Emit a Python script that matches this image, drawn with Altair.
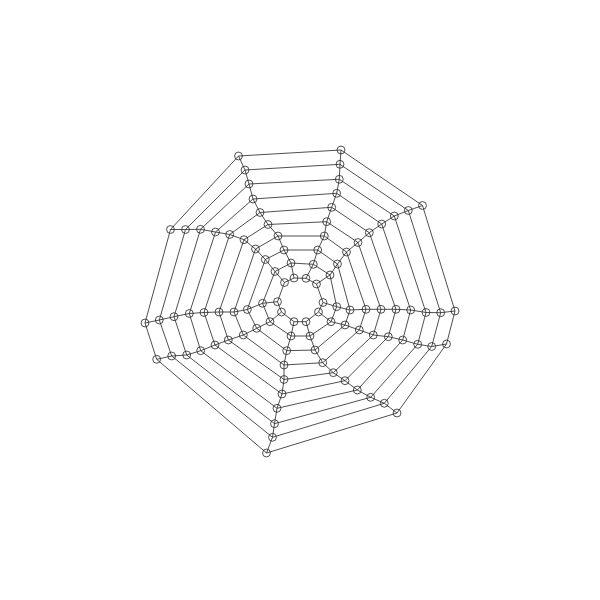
import altair as alt
import pandas as pd

# Node layout coordinates (centre of web = 0,0; y up), one list per spoke,
# ordered from the outer ring (index 0) to the inner ring (index 9).
spoke_x = [
    [-61.5, -55, -51, -47, -40, -32, -22, -16, -9, -6],
    [41, 40, 39.3, 36.7, 31.7, 26.7, 24.3, 17.7, 13.3, 6],
    [122.5, 108.3, 94.3, 81.7, 69.3, 58, 46.5, 37.5, 30, 16.5],
    [155, 140.7, 126, 110.7, 96, 81, 66, 50, 36.7, 23],
    [146.5, 131.7, 117.7, 102.7, 88.3, 73.3, 59.3, 45, 31, 18.5],
    [97, 84.3, 70.7, 57.3, 45, 33.3, 22.7, 15, 10, 6],
    [-33.5, -27.5, -25.5, -23, -18, -16, -16, -13.3, -9, -6],
    [-143.3, -128.3, -113.3, -99.3, -85, -71.7, -56.7, -43.3, -30, -18.5],
    [-155, -140.7, -126, -110.7, -96, -81, -66, -52.7, -37.5, -22.5],
    [-129.5, -114.5, -99.5, -84.5, -70.3, -56, -44.5, -34.7, -25, -15.5],
]
spoke_y = [
    [144, 130, 116, 101, 87.5, 75.5, 64, 50, 37, 22],
    [150, 135.7, 120.7, 106.7, 92.7, 78.3, 64, 50, 35.7, 21.7],
    [94.5, 89.5, 84, 76, 67.3, 57.5, 48, 36, 25, 16],
    [-11, -12.7, -12.5, -10, -9.3, -9.3, -9.3, -10, -6.7, -2.5],
    [-44, -46.5, -44.3, -40, -36.7, -35, -30, -25, -21.7, -12],
    [-113, -103.3, -97.3, -90, -80.7, -72.7, -62.7, -50, -36, -21.7],
    [-153, -137.3, -123.7, -108.3, -94, -79.5, -65, -50.7, -36, -21.7],
    [-59.3, -56, -55, -50.7, -45, -40, -35, -28.3, -21.7, -12],
    [-23, -20, -16.7, -13.5, -12.5, -12, -12, -9.5, -3.3, -1.7],
    [70.5, 70.5, 70.7, 68, 65.5, 60.3, 51, 40.5, 28.5, 17.5],
]

n_spokes = len(spoke_x)
n_rings = len(spoke_x[0])

nodes = []
for s in range(n_spokes):
    for r in range(n_rings):
        nodes.append({"spoke": s, "ring": r, "x": spoke_x[s][r], "y": spoke_y[s][r]})
nodes_df = pd.DataFrame(nodes)

edges = []
for s in range(n_spokes):
    for r in range(n_rings):
        # along the spoke
        if r + 1 < n_rings:
            edges.append({"x": spoke_x[s][r], "y": spoke_y[s][r],
                          "x2": spoke_x[s][r + 1], "y2": spoke_y[s][r + 1]})
        # around the ring
        t = (s + 1) % n_spokes
        edges.append({"x": spoke_x[s][r], "y": spoke_y[s][r],
                      "x2": spoke_x[t][r], "y2": spoke_y[t][r]})
edges_df = pd.DataFrame(edges)

xs = alt.Scale(domain=[-292, 292], nice=False, zero=False)
ys = alt.Scale(domain=[-292, 292], nice=False, zero=False)

edge_layer = alt.Chart(edges_df).mark_rule(color="#222222", strokeWidth=0.8).encode(
    x=alt.X("x:Q", scale=xs, axis=None),
    y=alt.Y("y:Q", scale=ys, axis=None),
    x2="x2:Q",
    y2="y2:Q",
)

node_layer = alt.Chart(nodes_df).mark_point(
    shape="circle", filled=False, size=62, color="#222222", strokeWidth=0.8, opacity=1
).encode(
    x=alt.X("x:Q", scale=xs, axis=None),
    y=alt.Y("y:Q", scale=ys, axis=None),
)

chart = (
    alt.layer(edge_layer, node_layer)
    .properties(width=584, height=584, padding=0, autosize=alt.AutoSizeParams(type="none"),
                background="white")
    .configure_view(stroke=None)
)

chart.save("out.html", embed_options={"renderer": "svg", "actions": False})
